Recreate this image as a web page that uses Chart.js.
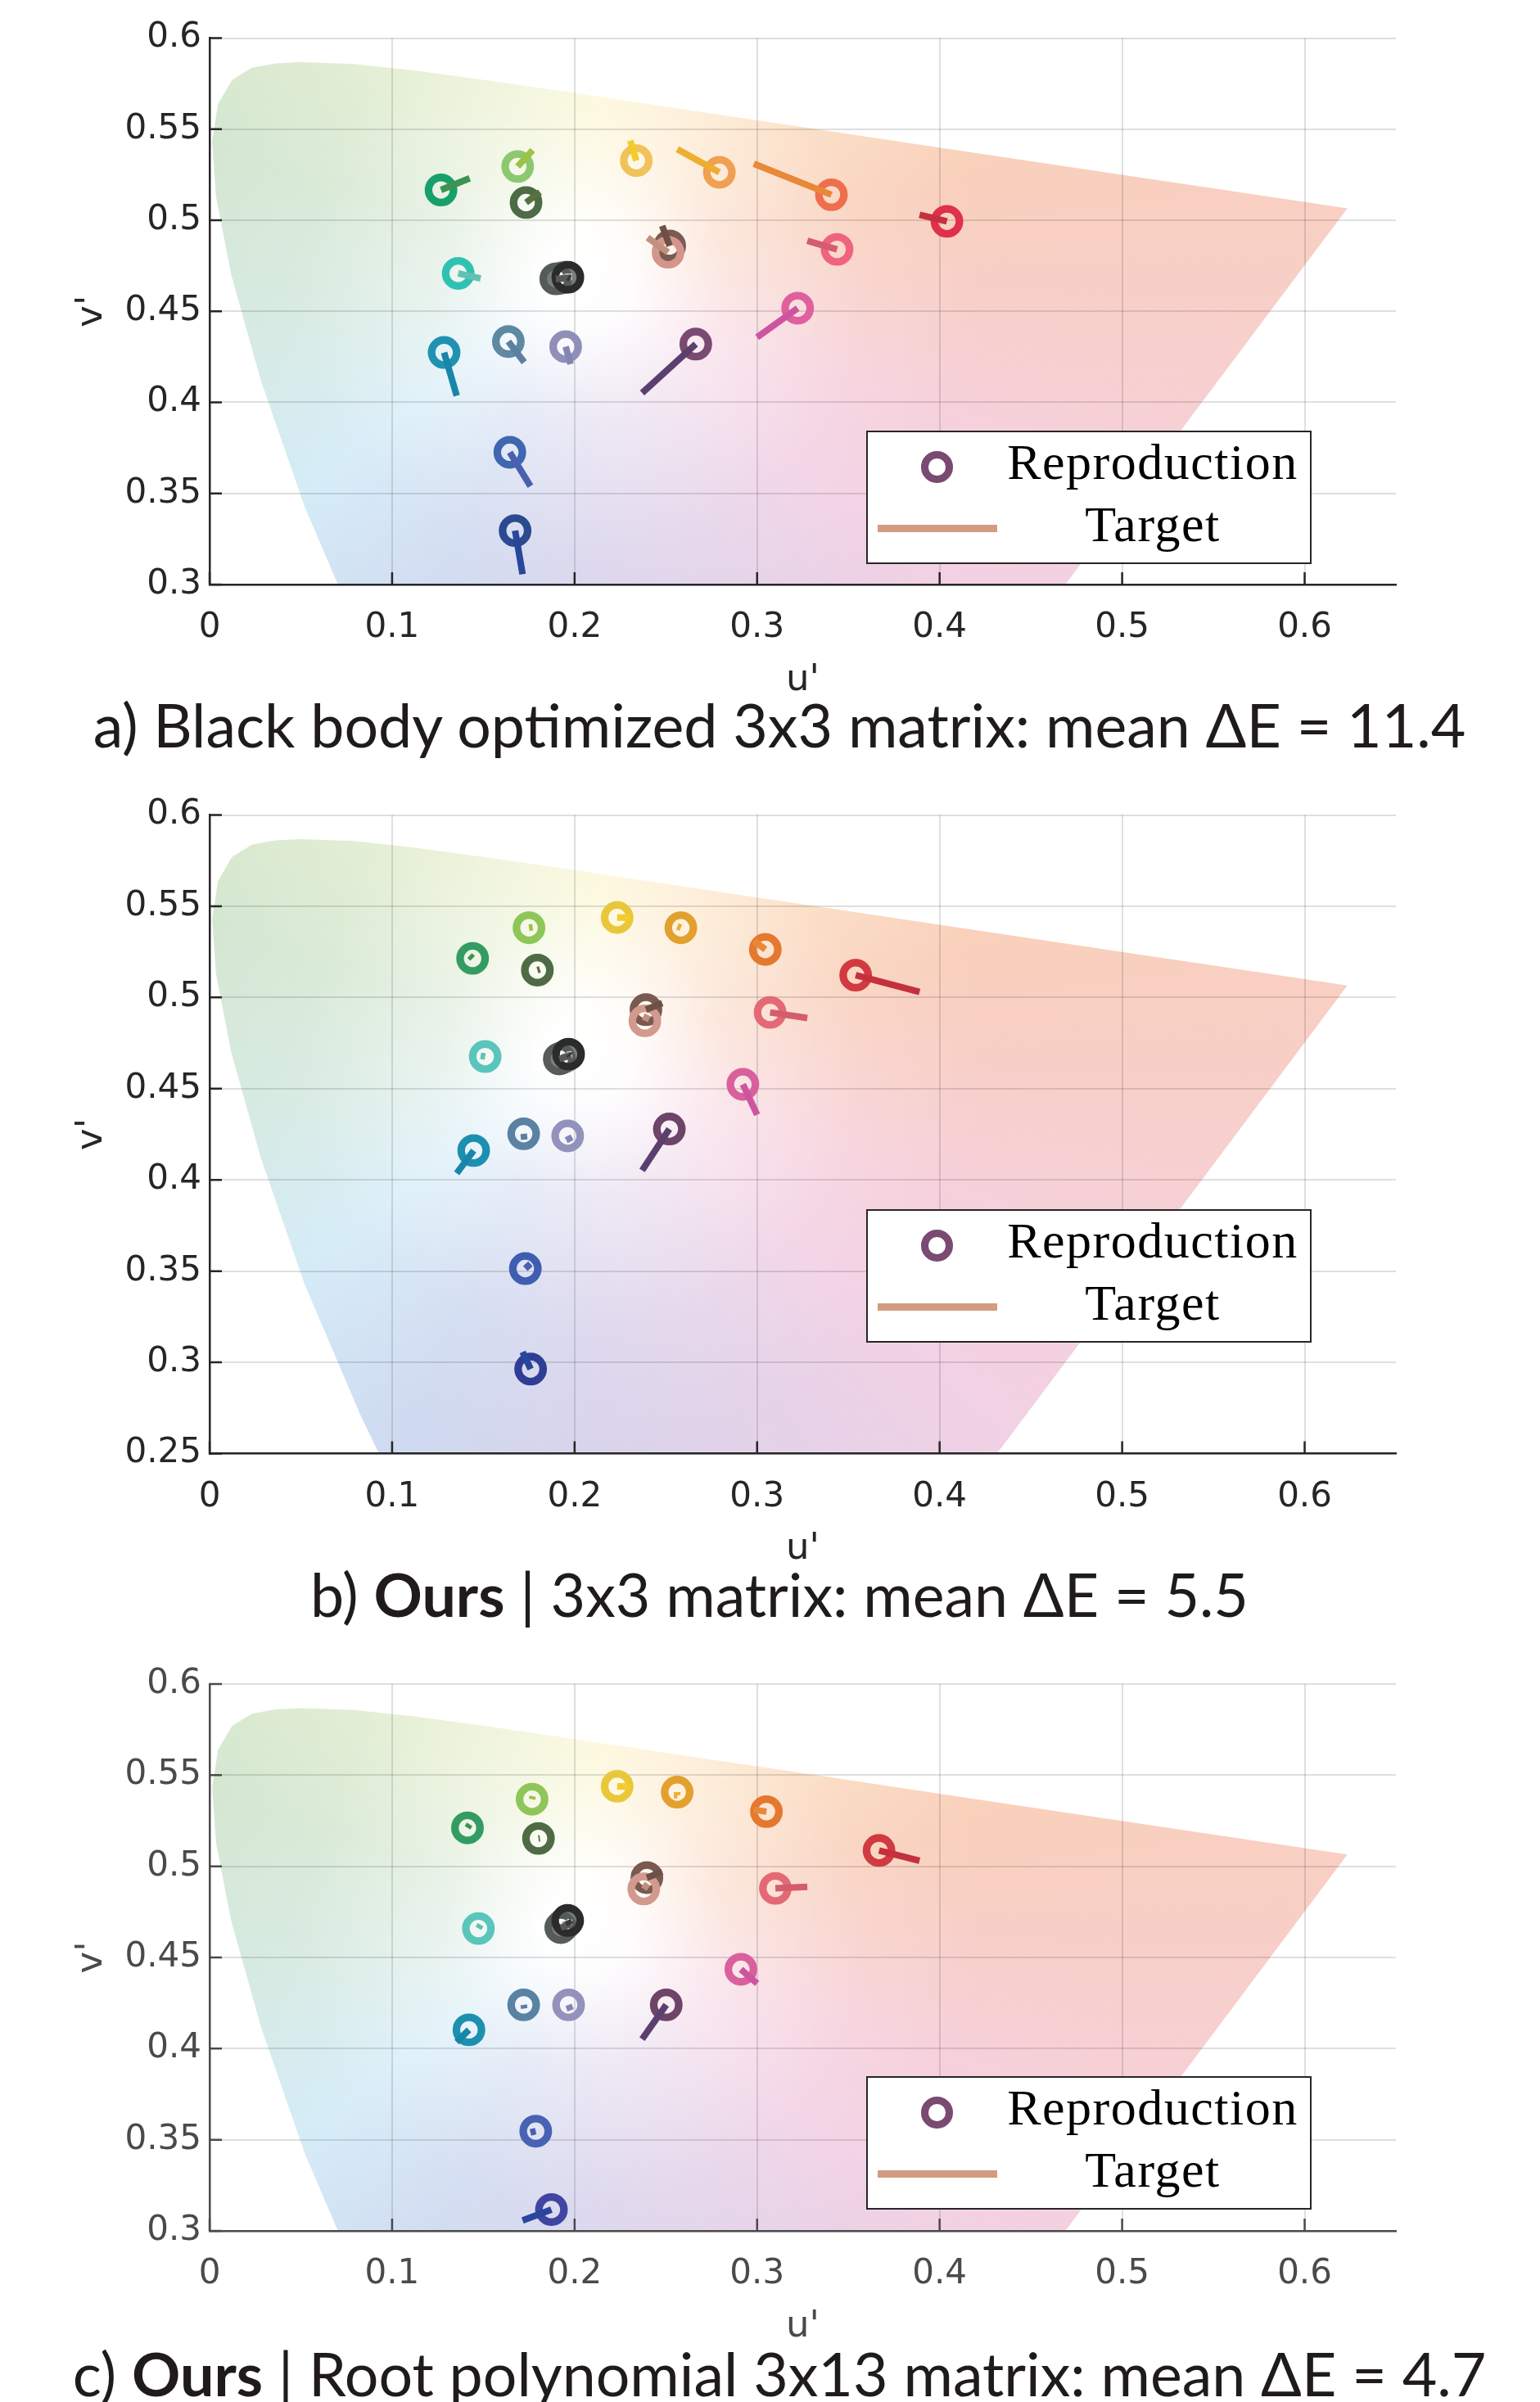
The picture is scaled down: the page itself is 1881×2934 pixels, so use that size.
<!DOCTYPE html>
<html>
<head>
<meta charset="utf-8">
<script src="https://cdn.jsdelivr.net/npm/chart.js@4.4.1/dist/chart.umd.min.js"></script>
<style>
  html, body { margin: 0; padding: 0; background: #fff; }
  body { position: relative; width: 1881px; height: 2934px; overflow: hidden; }
  canvas { position: absolute; left: 0; display: block; }
  .title { position: absolute; left: 0; width: 1904px; text-align: center; white-space: nowrap;
           font-family: Lato, "Noto Sans", sans-serif; font-size: 73.5px; line-height: 73.5px; color: #1f1b1c; z-index: 3; }
  .title b { font-weight: 700; }
  .legend { position: absolute; left: 1058px; width: 544px; height: 163px; box-sizing: border-box;
            border: 2px solid #262626; background: #fff; z-index: 2; }
  .lring { position: absolute; left: 65px; top: 23px; width: 20.5px; height: 20.5px; border: 9.5px solid #7a4a72; border-radius: 50%; }
  .lline { position: absolute; left: 12px; top: 113px; width: 146px; height: 9px; background: #d39b82; }
  .ltext { position: absolute; left: 148px; width: 400px; text-align: center; white-space: nowrap;
           font-family: "Liberation Serif", "DejaVu Serif", serif; font-size: 62px; line-height: 62px; letter-spacing: 1.5px; color: #000; }
</style>
</head>
<body>
<canvas id="chartA" width="1881" height="880" style="top:0px"></canvas>
<canvas id="chartB" width="1881" height="980" style="top:940px"></canvas>
<canvas id="chartC" width="1881" height="880" style="top:2000px"></canvas>

<div class="legend" style="top:526px"><div class="lring"></div><div class="lline"></div>
  <div class="ltext" style="top:5px">Reproduction</div><div class="ltext" style="top:81px">Target</div></div>
<div class="legend" style="top:1477px"><div class="lring"></div><div class="lline"></div>
  <div class="ltext" style="top:5px">Reproduction</div><div class="ltext" style="top:81px">Target</div></div>
<div class="legend" style="top:2536px"><div class="lring"></div><div class="lline"></div>
  <div class="ltext" style="top:5px">Reproduction</div><div class="ltext" style="top:81px">Target</div></div>

<div class="title" style="top:848px">a) Black body optimized 3x3 matrix: mean ΔE = 11.4</div>
<div class="title" style="top:1910px">b) <b>Ours</b> | 3x3 matrix: mean ΔE = 5.5</div>
<div class="title" style="top:2862px">c) <b>Ours</b> | Root polynomial 3x13 matrix: mean ΔE = 4.7</div>

<script>
// ---------------- data ----------------
// ColorChecker patches (order)
const patchNames = ['dark skin','light skin','blue sky','foliage','blue flower','bluish green',
  'orange','purplish blue','moderate red','purple','yellow green','orange yellow',
  'blue','green','red','yellow','magenta','cyan',
  'white','neutral 8','neutral 6.5','neutral 5','neutral 3.5','black'];

// Target chromaticities (u', v')
const targetU = [0.2480,0.2400,0.1724,0.1810,0.1978,0.1485,0.2982,0.1758,0.3275,0.2370,0.1770,0.2563,
                 0.1715,0.1425,0.3890,0.2305,0.3000,0.1354,0.1985,0.1984,0.1982,0.1980,0.1978,0.1975];
const targetV = [0.4969,0.4905,0.4220,0.5154,0.4210,0.4680,0.5310,0.3540,0.4887,0.4052,0.5385,0.5390,
                 0.3057,0.5230,0.5030,0.5437,0.4357,0.4036,0.4690,0.4688,0.4686,0.4684,0.4682,0.4680];

// a) Black body optimized 3x3 matrix — reproductions
const reproAU = [0.2521,0.2512,0.1637,0.1734,0.1951,0.1362,0.3407,0.1645,0.3438,0.2664,0.1688,0.2793,
                 0.1674,0.1268,0.4040,0.2338,0.3222,0.1285,0.1950,0.1945,0.1935,0.1925,0.1897,0.1963];
const reproAV = [0.4859,0.4824,0.4334,0.5097,0.4306,0.4708,0.5140,0.3726,0.4840,0.4320,0.5295,0.5263,
                 0.3296,0.5166,0.4994,0.5327,0.4517,0.4274,0.4690,0.4688,0.4684,0.4682,0.4678,0.4687];

// b) Ours | 3x3 matrix — reproductions
const reproBU = [0.2391,0.2385,0.1721,0.1796,0.1962,0.1510,0.3045,0.1730,0.3071,0.2519,0.1750,0.2582,
                 0.1759,0.1441,0.3540,0.2233,0.2922,0.1447,0.1960,0.1955,0.1945,0.1930,0.1916,0.1967];
const reproBV = [0.4933,0.4872,0.4253,0.5150,0.4241,0.4676,0.5263,0.3514,0.4918,0.4279,0.5382,0.5382,
                 0.2963,0.5214,0.5122,0.5438,0.4524,0.4161,0.4685,0.4680,0.4675,0.4670,0.4663,0.4689];

// c) Ours | Root polynomial 3x13 matrix — reproductions
const reproCU = [0.2396,0.2379,0.1721,0.1802,0.1967,0.1473,0.3051,0.1787,0.3100,0.2502,0.1767,0.2562,
                 0.1873,0.1413,0.3668,0.2233,0.2911,0.1421,0.1958,0.1952,0.1945,0.1935,0.1924,0.1962];
const reproCV = [0.4938,0.4876,0.4240,0.5153,0.4240,0.4659,0.5300,0.3547,0.4879,0.4240,0.5368,0.5407,
                 0.3117,0.5211,0.5087,0.5439,0.4435,0.4103,0.4695,0.4690,0.4683,0.4676,0.4664,0.4703];

// colours (target line colours, reproduction ring colours)
const targetColors = ['#6e5046','#c2907c','#5d7fa0','#56703f','#8585b3','#62c1b2','#e88838','#4a5fb0',
  '#d45c6c','#5b3f6e','#9cc248','#eeae30','#28469c','#3c9450','#c4303c','#f2cc2a','#cd55a0','#1886a8',
  '#e6e6e6','#c4c4c4','#a2a2a2','#7e7e7e','#585858','#383838'];
const ringColorsA = ['#7a5a52','#d4968c','#5d89a3','#4d6b45','#8f8fb8','#2fc2b2','#ef6f4d','#3f66b0',
  '#f0637e','#7a4a72','#8dc870','#f0a052','#2b4a90','#17a06b','#e0304a','#f0c25a','#e0609e','#1f92b2',
  '#f0f0f0','#c8c8c8','#a0a0a0','#7a7d7d','#555a5a','#2b2b2b'];
const ringColorsB = ['#7a5a50','#d29a8e','#5a82a2','#4e6b45','#9292bc','#5ac5bb','#e5782f','#3f5eb0',
  '#e36a75','#6e4468','#8fc65a','#e2a02e','#2e3e95','#349c62','#d23a42','#e8c83a','#d9609d','#1d90b0',
  '#f0f0f0','#c8c8c8','#a0a0a0','#7a7d7d','#555a5a','#2b2b2b'];
const ringColorsC = ['#7a5a50','#d29a8e','#5a82a2','#4e6b45','#9292bc','#5ac5bb','#e5782f','#4862b4',
  '#e36a75','#6e4468','#8fc65a','#e2a02e','#3f45a0','#349c62','#d23a42','#e8c83a','#d9609d','#1d90b0',
  '#f0f0f0','#c8c8c8','#a0a0a0','#7a7d7d','#555a5a','#2b2b2b'];

// Spectral locus (CIE 1976 u'v'), 460-700 nm, closed by the purple line to 380 nm
const locusU = [0.1877,0.1441,0.1147,0.0828,0.0521,0.0282,0.0119,0.0035,0.0014,0.0046,0.0123,0.0231,
                0.0360,0.0501,0.0792,0.1127,0.1531,0.2026,0.2623,0.3315,0.4035,0.5203,0.6234,0.2568];
const locusV = [0.0871,0.1510,0.2044,0.2708,0.3427,0.4117,0.4699,0.5131,0.5431,0.5638,0.5770,0.5837,
                0.5861,0.5868,0.5857,0.5821,0.5766,0.5694,0.5604,0.5501,0.5393,0.5219,0.5065,0.0166];
const whitePoint = [0.205, 0.468];

// Axis ticks
const xTicks = [0, 0.1, 0.2, 0.3, 0.4, 0.5, 0.6];
const xTickLabels = ['0','0.1','0.2','0.3','0.4','0.5','0.6'];
const yTicksA = [0.3, 0.35, 0.4, 0.45, 0.5, 0.55, 0.6];
const yTickLabelsA = ['0.3','0.35','0.4','0.45','0.5','0.55','0.6'];
const yTicksB = [0.25, 0.3, 0.35, 0.4, 0.45, 0.5, 0.55, 0.6];
const yTickLabelsB = ['0.25','0.3','0.35','0.4','0.45','0.5','0.55','0.6'];
const yTicksC = [0.3, 0.35, 0.4, 0.45, 0.5, 0.55, 0.6];
const yTickLabelsC = ['0.3','0.35','0.4','0.45','0.5','0.55','0.6'];

// ---------------- plugins ----------------
const gamutPlugin = {
  id: 'gamut',
  beforeDraw(chart) {
    const {ctx, chartArea: ca, scales: {x, y}} = chart;
    ctx.save();
    ctx.beginPath();
    ctx.rect(ca.left, ca.top, ca.right - ca.left, ca.bottom - ca.top);
    ctx.clip();
    ctx.beginPath();
    locusU.forEach((u, i) => {
      const px = x.getPixelForValue(u), py = y.getPixelForValue(locusV[i]);
      if (i === 0) ctx.moveTo(px, py); else ctx.lineTo(px, py);
    });
    ctx.closePath();
    const cx = x.getPixelForValue(whitePoint[0]), cy = y.getPixelForValue(whitePoint[1]);
    const g = ctx.createConicGradient(0, cx, cy);
    const stops = [[0,'#f8cfc6'],[20,'#f6d0db'],[40,'#f2d1e4'],[62,'#e5d2e8'],[90,'#d8d4ec'],
      [115,'#cfdaf0'],[143,'#d3ebf7'],[172,'#d4e9e0'],[200,'#d4e7d1'],[230,'#e3eecf'],
      [258,'#f1f3cd'],[275,'#fcf5ca'],[300,'#fde9c8'],[325,'#fbdbbf'],[345,'#f9d0bb'],[360,'#f8cfc6']];
    stops.forEach(s => g.addColorStop(s[0] / 360, s[1]));
    ctx.fillStyle = g;
    ctx.fill();
    const R = x.getPixelForValue(0.22) - x.getPixelForValue(0);
    const r = ctx.createRadialGradient(cx, cy, 0, cx, cy, R);
    r.addColorStop(0, 'rgba(255,255,255,1)');
    r.addColorStop(0.12, 'rgba(255,255,255,0.95)');
    r.addColorStop(0.35, 'rgba(255,255,255,0.5)');
    r.addColorStop(0.7, 'rgba(255,255,255,0.12)');
    r.addColorStop(1, 'rgba(255,255,255,0)');
    ctx.fillStyle = r;
    ctx.fill();
    ctx.restore();
  }
};

const inwardTicks = {
  id: 'inwardTicks',
  afterDraw(chart, args, opts) {
    const {ctx, chartArea: ca, scales: {x, y}} = chart;
    ctx.save();
    ctx.strokeStyle = opts.color;
    ctx.lineWidth = 2.5;
    ctx.beginPath();
    x.ticks.forEach(t => { const px = x.getPixelForValue(t.value); ctx.moveTo(px, ca.bottom); ctx.lineTo(px, ca.bottom - 15); });
    y.ticks.forEach(t => { const py = y.getPixelForValue(t.value); ctx.moveTo(ca.left, py); ctx.lineTo(ca.left + 15, py); });
    ctx.stroke();
    ctx.restore();
  }
};

// ---------------- chart builder ----------------
function makeChart(id, reproU, reproV, ringColors, yMin, yTicks, yTickLabels, axisColor, T, B, H) {
  const rings = reproU.map((u, i) => ({x: u, y: reproV[i]}));
  const lines = [];
  targetU.forEach((u, i) => {
    lines.push({x: u, y: targetV[i]}, {x: reproU[i], y: reproV[i]}, {x: null, y: null});
  });
  const uMid = B + 117;
  return new Chart(document.getElementById(id), {
    type: 'scatter',
    data: {
      datasets: [
        {
          label: 'Target', data: lines, showLine: true, spanGaps: false, order: 1,
          borderWidth: 8, borderCapStyle: 'butt', pointRadius: 0, pointHoverRadius: 0,
          borderColor: '#d39b82',
          segment: { borderColor: c => targetColors[Math.floor(c.p0DataIndex / 3)] }
        },
        {
          label: 'Reproduction', data: rings, order: 2, pointStyle: 'circle',
          pointRadius: 15.3, pointHoverRadius: 15.3, pointBorderWidth: 9.3, pointHoverBorderWidth: 9.3,
          pointBackgroundColor: 'rgba(0,0,0,0)', pointBorderColor: ringColors
        }
      ]
    },
    options: {
      responsive: false, animation: false, devicePixelRatio: 1, events: [],
      layout: { padding: { top: T, right: 176, left: 0, bottom: 0 } },
      plugins: { legend: { display: false }, tooltip: { enabled: false }, inwardTicks: { color: axisColor } },
      scales: {
        x: {
          type: 'linear', min: 0, max: 0.65,
          afterBuildTicks: s => { s.ticks = xTicks.map(v => ({value: v})); },
          afterFit: s => { s.height = H - B; },
          ticks: { callback: v => xTickLabels[xTicks.indexOf(v)], autoSkip: false, maxRotation: 0,
                   padding: 28, color: axisColor, font: { family: 'DejaVu Sans', size: 42 } },
          grid: { color: 'rgba(38,38,38,0.15)', lineWidth: 2, drawTicks: false },
          border: { display: true, color: axisColor, width: 2.5 },
          title: { display: true, text: "u'", color: axisColor, font: { family: 'DejaVu Sans', size: 45 },
                   padding: { top: 0, bottom: H - uMid - 27 } }
        },
        y: {
          type: 'linear', min: yMin, max: 0.6,
          afterBuildTicks: s => { s.ticks = yTicks.map(v => ({value: v})); },
          afterFit: s => { s.width = 256; },
          ticks: { callback: v => yTickLabels[yTicks.indexOf(v)], autoSkip: false,
                   padding: 10, color: axisColor, font: { family: 'DejaVu Sans', size: 42 } },
          grid: { color: 'rgba(38,38,38,0.15)', lineWidth: 2, drawTicks: false },
          border: { display: true, color: axisColor, width: 2.5 },
          title: { display: true, text: "v'", color: axisColor, font: { family: 'DejaVu Sans', size: 45 },
                   padding: { top: 85, bottom: 0 } }
        }
      }
    },
    plugins: [gamutPlugin, inwardTicks]
  });
}

makeChart('chartA', reproAU, reproAV, ringColorsA, 0.3, yTicksA, yTickLabelsA, '#262626', 46.5, 714, 880);
makeChart('chartB', reproBU, reproBV, ringColorsB, 0.25, yTicksB, yTickLabelsB, '#262626', 55.5, 835.5, 980);
makeChart('chartC', reproCU, reproCV, ringColorsC, 0.3, yTicksC, yTickLabelsC, '#4a4a4a', 57, 725, 880);
</script>
</body>
</html>
